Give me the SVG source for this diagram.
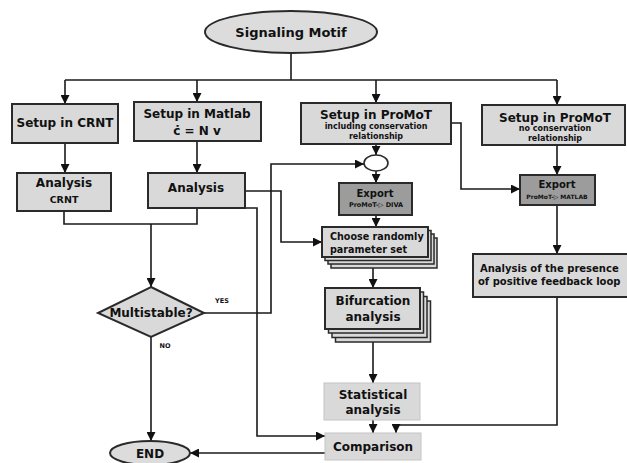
<svg xmlns="http://www.w3.org/2000/svg" width="627" height="463" viewBox="0 0 627 463">
<defs>
<marker id="arr" viewBox="0 0 10 10" refX="10" refY="5" markerUnits="userSpaceOnUse" markerWidth="9" markerHeight="9" orient="auto">
<path d="M0,0 L10,5 L0,10 z" fill="#111"/>
</marker>
</defs>
<style>
text{font-family:"DejaVu Sans","Verdana",sans-serif;font-weight:bold;fill:#111;text-anchor:middle}
.box{fill:#d9d9d9;stroke:#2a2a2a;stroke-width:2}
.dark{fill:#9c9c9c;stroke:#2a2a2a;stroke-width:2}
.soft{fill:#d9d9d9;stroke:#c4c4c4;stroke-width:1}
.stk{fill:#d9d9d9;stroke:#2a2a2a;stroke-width:1.5}
.t12{font-size:12px}
.t13{font-size:13px}
.t10{font-size:10px}
.t8{font-size:8px}
#connectors path{fill:none;stroke:#1a1a1a;stroke-width:1.6}
.a{marker-end:url(#arr)}
</style>
<rect width="627" height="463" fill="#fff"/>

<g id="connectors">
<path d="M291,53 V80"/>
<path d="M65,80 H557"/>
<path class="a" d="M65,80 V104"/>
<path class="a" d="M197,80 V102"/>
<path class="a" d="M376,80 V103"/>
<path class="a" d="M557,80 V105"/>
<path class="a" d="M65,143 V173"/>
<path class="a" d="M197,141 V173"/>
<path d="M64,211 V224 H197 V208"/>
<path class="a" d="M151,224 V287"/>
<path class="a" d="M204,313 H271 V164 H364"/>
<path class="a" d="M376,144 V155"/>
<path class="a" d="M376,171 V183"/>
<path class="a" d="M376,215 V227"/>
<path class="a" d="M373,257 V288"/>
<path class="a" d="M373,329 V383"/>
<path class="a" d="M373,420 V433"/>
<path class="a" d="M245,191 H281 V242 H322"/>
<path class="a" d="M245,208 H257 V436 H325"/>
<path class="a" d="M326,453 H190"/>
<path class="a" d="M151,337 V441"/>
<path class="a" d="M451,123 H461 V189 H520"/>
<path class="a" d="M557,145 V175"/>
<path class="a" d="M557,205 V254"/>
<path class="a" d="M557,297 V425 H396 V433"/>
</g>

<g id="signaling-motif">
<ellipse cx="291" cy="32" rx="86" ry="21" fill="#dcdcdc" stroke="#2a2a2a" stroke-width="2"/>
<text class="t13" x="291" y="37">Signaling Motif</text>
</g>

<g id="setup-crnt">
<rect class="box" x="12" y="104" width="106" height="39"/>
<text class="t12" x="65" y="127">Setup in CRNT</text>
</g>

<g id="setup-matlab">
<rect class="box" x="134" y="102" width="127" height="39"/>
<text class="t12" x="197" y="118">Setup in Matlab</text>
<text class="t12" x="197" y="135">ċ = N v</text>
</g>

<g id="setup-promot-1">
<rect class="box" x="301" y="103" width="150" height="41"/>
<text class="t12" x="376" y="119">Setup in ProMoT</text>
<text class="t8" x="376" y="129">including conservation</text>
<text class="t8" x="376" y="139">relationship</text>
</g>

<g id="setup-promot-2">
<rect class="box" x="482" y="105" width="143" height="40"/>
<text class="t12" x="555" y="122">Setup in ProMoT</text>
<text class="t8" x="555" y="131">no conservation</text>
<text class="t8" x="555" y="141">relationship</text>
</g>

<g id="analysis-crnt">
<rect class="box" x="17" y="173" width="94" height="38"/>
<text class="t12" x="64" y="187">Analysis</text>
<text x="64" y="203" style="font-size:9.5px">CRNT</text>
</g>

<g id="analysis-matlab">
<rect class="box" x="148" y="173" width="97" height="35"/>
<text class="t12" x="196" y="192">Analysis</text>
</g>

<g id="multistable">
<polygon points="151,287 204,313 151,337 98,313" fill="#d9d9d9" stroke="#2a2a2a" stroke-width="2"/>
<text class="t12" x="151" y="317">Multistable?</text>
<text x="222" y="303" style="font-size:6.5px">YES</text>
<text x="165" y="348" style="font-size:6.5px">NO</text>
</g>

<g id="join">
<ellipse cx="376" cy="163" rx="12" ry="8" fill="#fff" stroke="#2a2a2a" stroke-width="1.6"/>
</g>

<g id="export-diva">
<rect class="dark" x="339" y="183" width="73" height="32"/>
<text class="t10" x="375" y="197">Export</text>
<text x="376" y="207" style="font-size:6.5px">ProMoT-▷ DIVA</text>
</g>

<g id="choose-parameters">
<rect class="stk" x="331" y="238" width="106" height="30"/>
<rect class="stk" x="328" y="234" width="106" height="30"/>
<rect class="stk" x="325" y="230.5" width="106" height="30"/>
<rect class="box" x="322" y="227" width="106" height="30"/>
<text x="330" y="240" style="font-size:9.6px;text-anchor:start">Choose randomly</text>
<text x="330" y="253" style="font-size:9.6px;text-anchor:start">parameter set</text>
</g>

<g id="bifurcation">
<rect class="stk" x="335.5" y="301" width="95" height="41"/>
<rect class="stk" x="332" y="296.5" width="95" height="41"/>
<rect class="stk" x="328.5" y="292" width="95" height="41"/>
<rect class="box" x="325" y="288" width="95" height="41"/>
<text class="t12" x="373" y="305">Bifurcation</text>
<text class="t12" x="373" y="321">analysis</text>
</g>

<g id="statistical">
<rect class="soft" x="324" y="383" width="96" height="37"/>
<text class="t12" x="373" y="399">Statistical</text>
<text class="t12" x="373" y="414">analysis</text>
</g>

<g id="comparison">
<rect class="soft" x="325" y="433" width="96" height="27"/>
<text class="t12" x="373" y="451">Comparison</text>
</g>

<g id="end">
<ellipse cx="150" cy="453" rx="40" ry="12" fill="#dcdcdc" stroke="#2a2a2a" stroke-width="2"/>
<text class="t12" x="150" y="458">END</text>
</g>

<g id="export-matlab">
<rect class="dark" x="520" y="175" width="75" height="30"/>
<text class="t10" x="557" y="188">Export</text>
<text x="557" y="199" style="font-size:6px">ProMoT-▷ MATLAB</text>
</g>

<g id="feedback-analysis">
<rect class="box" x="473" y="254" width="170" height="43"/>
<text x="480" y="272" style="font-size:10px;text-anchor:start">Analysis of the presence</text>
<text x="478" y="285" style="font-size:10px;text-anchor:start">of positive feedback loop</text>
</g>
</svg>
